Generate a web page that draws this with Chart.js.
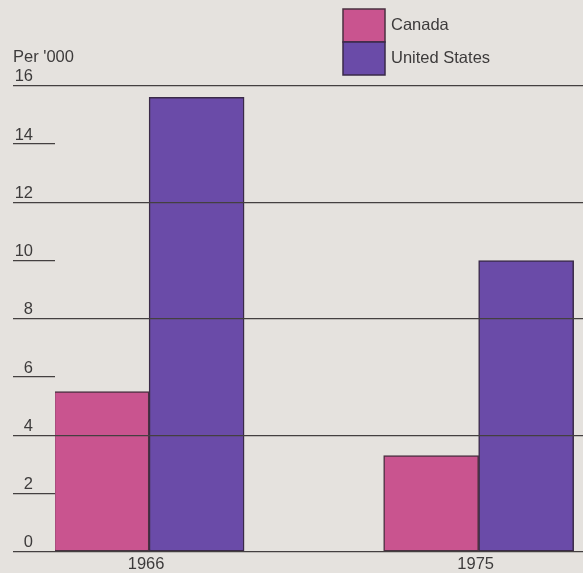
<!DOCTYPE html>
<html>
<head>
<meta charset="utf-8">
<script src="https://cdn.jsdelivr.net/npm/chart.js@4.4.1/dist/chart.umd.min.js"></script>
<style>
  body { margin: 0; background: #e5e2de; }
  .wrap { width: 583px; height: 573px; }
</style>
</head>
<body>
<div class="wrap"><canvas class="rates"></canvas></div>
<script>
const years = [1966, 1975]
const canada = [5.5, 3.3]
const unitedStates = [15.6, 10]
const yTicks = [0, 2, 4, 6, 8, 10, 12, 14, 16]

const ink = '#3d3b3b'
const lineInk = '#444040'

Chart.defaults.font.family = "'Liberation Sans', Arial, sans-serif"
Chart.defaults.font.size = 16.5
Chart.defaults.color = ink

// little stacked legend, top right
const boxLegend = {
  id: 'boxLegend',
  afterDraw(chart) {
    const ctx = chart.ctx
    const sets = chart.data.datasets
    ctx.save()
    for (let i = 0; i < sets.length; i++) {
      const top = 9 + i * 33
      ctx.fillStyle = sets[i].backgroundColor
      ctx.fillRect(343, top, 42, 33)
      ctx.strokeStyle = sets[i].borderColor
      ctx.lineWidth = 1.5
      ctx.strokeRect(343, top, 42, 33)
      ctx.fillStyle = ink
      ctx.font = "16.5px 'Liberation Sans', Arial, sans-serif"
      ctx.textBaseline = 'middle'
      ctx.fillText(sets[i].label, 391, top + 16)
    }
    ctx.restore()
  }
}

function toPoints(values) {
  return values.map((v, i) => ({ x: years[i], y: v }))
}

new Chart(document.querySelector('.rates'), {
  type: 'bar',
  data: {
    datasets: [
      {
        label: 'Canada',
        data: toPoints(canada),
        backgroundColor: '#c9548f',
        borderColor: '#4a3040',
        borderWidth: 1.5,
        borderSkipped: false
      },
      {
        label: 'United States',
        data: toPoints(unitedStates),
        backgroundColor: '#6a4ba8',
        borderColor: '#3a2a48',
        borderWidth: 1.5,
        borderSkipped: false
      }
    ]
  },
  options: {
    responsive: true,
    maintainAspectRatio: false,
    animation: false,
    barThickness: 95,
    layout: { padding: { left: 13, right: 0, top: 0, bottom: 0 } },
    plugins: {
      legend: { display: false },
      tooltip: { enabled: false },
      title: {
        display: true,
        text: "Per '000",
        align: 'start',
        color: ink,
        font: { size: 16.5, weight: 'normal' },
        padding: { top: 48, bottom: 18 }
      }
    },
    scales: {
      x: {
        type: 'linear',
        offset: false,
        min: 1963.43,
        max: 1977.85,
        afterBuildTicks: scale => { scale.ticks = years.map(v => ({ value: v })) },
        afterFit: scale => { scale.height = 21.3 },
        grid: { display: false, offset: false, drawTicks: false },
        border: { display: false },
        ticks: {
          padding: 3,
          labelOffset: -3,
          callback: value => String(value)
        }
      },
      y: {
        min: 0,
        max: 16,
        afterBuildTicks: scale => { scale.ticks = yTicks.map(v => ({ value: v })) },
        afterFit: scale => { scale.width = 42 },
        border: { display: false },
        grid: {
          z: 1,
          color: ctx => (ctx.tick && ctx.tick.value % 4 === 0) ? lineInk : 'rgba(0,0,0,0)',
          tickColor: lineInk,
          lineWidth: 1.3,
          tickLength: 42
        },
        ticks: {
          padding: -20,
          labelOffset: -9,
          callback: value => String(value)
        }
      }
    }
  },
  plugins: [boxLegend]
})
</script>
</body>
</html>
